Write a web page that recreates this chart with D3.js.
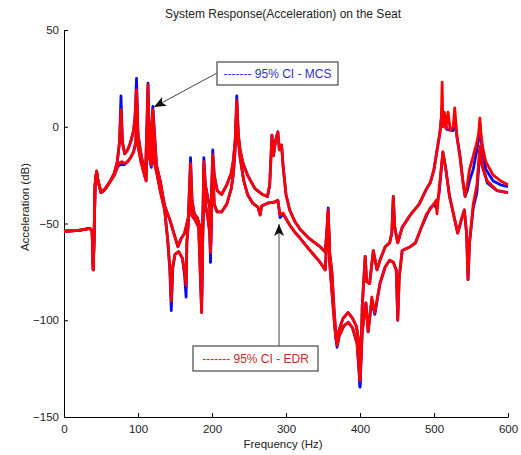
<!DOCTYPE html>
<html>
<head>
<meta charset="utf-8">
<script src="https://cdn.jsdelivr.net/npm/d3@7"></script>
<style>
  body { margin: 0; background: #fff; }
  text { font-family: "Liberation Sans", Arial, sans-serif; fill: #222; }
</style>
</head>
<body>
<div id="chart"></div>
<script>
// [frequency Hz, acceleration dB]
var edrUpper = [[0,-54],[20,-53.5],[35,-52.5],[38,-54],[39.5,-74],[40.5,-60],[42,-30],[44,-23],[46,-28],[50,-34],[55,-32.5],[62,-28.5],[68,-24],[72,-18],[75,-8],[77,8.7],[79,-8],[82,-14],[86,-12],[90,-8],[94,-2],[96,5],[98,19],[100,-4],[104,-14],[108,-22],[110,-26],[112,0],[113.5,21.6],[115,-5],[117,-10],[120,8.7],[122,-2],[125,-20],[130,-28],[136,-41],[143,-48],[150,-57],[154,-62],[158,-58],[163,-55],[168,-47],[171,-19],[173,-38],[176,-45],[180,-47],[184,-52],[186,-90],[187,-60],[188,-40],[189,-18],[191,-30],[194,-36],[197,-42],[198,-65],[199,-40],[201,-14.6],[203,-25],[207,-33],[213,-35],[220,-30],[226,-24],[229,-17],[231.5,-6],[233.5,13.5],[235.5,-4],[238,-12],[242,-19],[248,-25],[258,-32],[268,-35],[275,-36],[278,-30],[281,-4.3],[283,-15],[286,-7],[289,-2.7],[291,-12],[294,-9.4],[296,-20],[300,-35],[305,-43],[312,-49],[319,-53],[332,-58],[346,-62],[353,-64.7],[355,-55],[357,-43],[359,-65],[362,-75],[365,-95],[368,-110],[371,-106],[377,-99],[384,-96],[390,-99],[395,-103],[398,-110],[400,-131],[402,-108],[403,-93],[407,-67],[409,-80],[413,-81],[418,-64],[423,-74],[427,-69],[434,-62],[440,-60],[443,-55],[445,-36],[447,-52],[451,-60],[457,-52],[468,-45.6],[480,-40],[490,-32],[495,-29],[500,-22],[505,-10],[508,-3],[510,5],[511,23],[512,0],[514,7.6],[516,-1],[519,7.6],[522,-2],[526,0],[528,9.7],[531,-5],[535,-15],[539,-28],[542,-36],[545,-30],[548,-22],[553,-15],[558,-8],[560.5,-3],[562,4.5],[563.5,-4],[566,-11],[570,-18],[580,-25],[590,-28],[600,-30]];

var edrLower = [[0,-54],[20,-53.5],[35,-52.5],[38,-54],[39.5,-74],[40.5,-60],[42,-30],[44,-23],[46,-28],[50,-34],[55,-32.5],[62,-28.5],[68,-25],[71,-22],[74,-19],[78,-18],[82,-19],[86,-18],[90,-16],[94,-13],[97,-8],[98.5,12],[100,-10],[104,-18],[108,-24],[111,-28],[113.5,14],[115,-15],[118,-20],[120,0],[122,-18],[126,-25],[130,-33],[136,-43],[140,-58],[143,-72],[145,-90],[147,-72],[150,-66],[155,-64.5],[160,-68],[163,-75],[165,-82],[166,-60],[168,-50],[171,-30],[173,-46],[177,-48],[182,-52],[186,-96],[187,-65],[188,-50],[189,-22],[191,-40],[194,-46],[197,-55],[198,-65],[199,-50],[201,-20],[203,-40],[207,-44],[213,-44],[220,-40],[226,-32],[229,-24],[231.5,-10],[233.5,10],[235.5,-6],[238,-16],[243,-28],[248,-35],[255,-39.5],[262,-41.5],[265,-45.6],[267,-41],[275,-39.5],[284,-39],[289,-38],[292,-45.6],[296,-44.6],[305,-50.8],[312,-54.5],[319,-57.5],[332,-63.7],[346,-70],[353,-74],[355,-60],[357,-45],[359,-70],[362,-85],[366,-104],[369,-113],[372,-108],[378,-103],[384,-101],[390,-104],[396,-112],[400,-131],[402,-115],[403,-106],[408,-91],[411,-106],[416,-88],[420,-96],[427,-81],[434,-72.5],[440,-69],[445,-70],[449,-74],[451,-100],[453,-78],[457,-64],[468,-62],[475,-60],[483,-52],[490,-45],[497,-41.5],[503,-38],[504,-45],[507,-32],[512,-13],[516,-22],[521,-36],[528,-48],[532,-55],[537,-48],[541,-43],[544,-55],[546,-79],[548,-60],[553,-40],[558,-30],[562,-10],[565,-20],[572,-28],[585,-33],[600,-34]];

var mcsUpper = [[0,-54],[20,-53.5],[35,-52.5],[38,-54],[39.5,-74],[40.5,-60],[42,-30],[44,-23],[46,-28],[50,-34],[55,-32.5],[62,-28.5],[68,-24],[72,-18],[75,-8],[77,16],[79,-8],[82,-14],[86,-12],[90,-8],[94,-2],[96,5],[98,25],[100,-4],[104,-14],[108,-22],[110,-26],[112,0],[113.5,22.5],[115,-5],[117,-10],[120,10.5],[122,-2],[125,-20],[130,-28],[136,-41],[143,-48],[150,-57],[154,-62],[158,-58],[163,-55],[168,-47],[171,-16],[173,-38],[176,-45],[180,-47],[184,-52],[186,-90],[187,-60],[188,-40],[189,-16],[191,-30],[194,-36],[197,-42],[198,-70],[199,-40],[201,-12],[203,-25],[207,-33],[213,-35],[220,-30],[226,-24],[229,-17],[231.5,-6],[233.5,16],[235.5,-4],[238,-12],[242,-19],[248,-25],[258,-32],[268,-35],[275,-36],[278,-30],[281,-4.3],[283,-15],[286,-7],[289,-2.7],[291,-12],[294,-9.4],[296,-20],[300,-35],[305,-43],[312,-49],[319,-53],[332,-58],[346,-62],[353,-64.7],[355,-55],[357,-42],[359,-65],[362,-75],[365,-95],[368,-111],[371,-106],[377,-99],[384,-96],[390,-99],[395,-103],[398,-110],[400,-134.5],[402,-108],[403,-93],[407,-67],[409,-80],[413,-81],[418,-64],[423,-74],[427,-69],[434,-62],[440,-60],[443,-55],[445,-36],[447,-52],[451,-60],[457,-52],[468,-45.6],[480,-40],[490,-32],[495,-29],[500,-22],[505,-10],[508,-3],[510,5],[511,10],[512,3],[514,2],[518,-1.5],[522,-1.5],[526,-2],[528,5],[531,-5],[535,-15],[539,-28],[542,-36],[545,-33],[548,-28],[553,-22],[558,-12],[560.5,-6],[562,2],[563.5,-6],[566,-14],[570,-22],[580,-28],[590,-30],[600,-31]];

var mcsLower = [[0,-54],[20,-53.5],[35,-52.5],[38,-54],[39.5,-74],[40.5,-60],[42,-30],[44,-23],[46,-28],[50,-34],[55,-32.5],[62,-28.5],[68,-25],[71,-22],[74,-20],[78,-19.5],[82,-19.5],[86,-18],[90,-16],[94,-13],[97,-8],[98.5,12],[100,-10],[104,-18],[108,-24],[111,-28],[113.5,14],[115,-15],[118,-21],[120,0],[122,-18],[126,-25],[130,-33],[136,-43],[140,-58],[143,-74],[145,-95],[147,-73],[150,-66],[155,-64.5],[160,-68],[163,-77],[165,-88],[166,-60],[168,-50],[171,-30],[173,-46],[177,-48],[182,-52],[186,-96],[187,-65],[188,-50],[189,-22],[191,-40],[194,-46],[197,-55],[198,-70],[199,-50],[201,-20],[203,-40],[207,-44],[213,-44],[220,-40],[226,-32],[229,-24],[231.5,-10],[233.5,10],[235.5,-6],[238,-16],[243,-28],[248,-35],[255,-39.5],[262,-41.5],[265,-45.6],[267,-41],[275,-39.5],[284,-39],[289,-38],[292,-47],[296,-45],[305,-50.8],[312,-54.5],[319,-57.5],[332,-63.7],[346,-70],[353,-74],[355,-60],[357,-45],[359,-70],[362,-85],[366,-104],[369,-114],[372,-108],[378,-103],[384,-101],[390,-104],[396,-112],[400,-134.5],[402,-115],[403,-106],[408,-91],[411,-106],[416,-90],[420,-97],[427,-81],[434,-72.5],[440,-69],[445,-70],[449,-74],[451,-100],[453,-78],[457,-64],[468,-62],[475,-60],[483,-52],[490,-46],[495,-42],[500,-40],[503,-42],[507,-34],[512,-13],[516,-22],[521,-36],[528,-48],[532,-55],[537,-48],[541,-43],[544,-55],[546,-79],[548,-60],[553,-42],[558,-34],[562,-12],[565,-20],[572,-29],[585,-33],[600,-34]];

var xTicks = [0, 100, 200, 300, 400, 500, 600];
var yTicks = [-150, -100, -50, 0, 50];
var legendMcs = "------- 95% CI - MCS";
var legendEdr = "------- 95% CI - EDR";

var width = 521, height = 455;
var margin = {top: 30, right: 13, bottom: 38, left: 64};

var svg = d3.select("#chart").append("svg")
  .attr("width", width)
  .attr("height", height);

var x = d3.scaleLinear().domain([0, 600]).range([margin.left, width - margin.right]);
var y = d3.scaleLinear().domain([-150, 50]).range([height - margin.bottom, margin.top]);

// axes, ticks point inward like matlab
var xAxis = svg.append("g")
  .attr("transform", "translate(0," + y(-150) + ")")
  .call(d3.axisBottom(x).tickValues(xTicks).tickSize(-4).tickPadding(6).tickSizeOuter(0));
var yAxis = svg.append("g")
  .attr("transform", "translate(" + x(0) + ",0)")
  .call(d3.axisLeft(y).tickValues(yTicks).tickSize(-4).tickPadding(5).tickSizeOuter(0));

svg.selectAll(".domain").attr("stroke", "#000");
svg.selectAll(".tick line").attr("stroke", "#000");
svg.selectAll(".tick text").attr("font-size", 11.5).attr("fill", "#222")
  .attr("font-family", "'Liberation Sans', Arial, sans-serif");
xAxis.selectAll(".tick text").attr("dy", "0.9em");

var line = d3.line()
  .x(function(d) { return x(d[0]); })
  .y(function(d) { return y(d[1]); });

var plot = svg.append("g");
[mcsUpper, mcsLower].forEach(function(s) {
  plot.append("path").datum(s)
    .attr("d", line)
    .attr("fill", "none")
    .attr("stroke", "#0a0aee")
    .attr("stroke-width", 2.8)
    .attr("stroke-linejoin", "round");
});
[edrUpper, edrLower].forEach(function(s) {
  plot.append("path").datum(s)
    .attr("d", line)
    .attr("fill", "none")
    .attr("stroke", "#ff0000")
    .attr("stroke-width", 2.8)
    .attr("stroke-linejoin", "round");
});

// title and labels
svg.append("text")
  .attr("x", 283).attr("y", 18)
  .attr("text-anchor", "middle")
  .attr("font-size", 12)
  .text("System Response(Acceleration) on the Seat");

svg.append("text")
  .attr("x", 283).attr("y", 448)
  .attr("text-anchor", "middle")
  .attr("font-size", 11.5)
  .text("Frequency (Hz)");

svg.append("text")
  .attr("transform", "translate(29,207) rotate(-90)")
  .attr("text-anchor", "middle")
  .attr("font-size", 11.5)
  .text("Acceleration (dB)");

// arrow heads
var defs = svg.append("defs");
defs.append("marker")
  .attr("id", "head")
  .attr("viewBox", "0 0 12 10")
  .attr("refX", 12).attr("refY", 5)
  .attr("markerWidth", 12).attr("markerHeight", 10)
  .attr("markerUnits", "userSpaceOnUse")
  .attr("orient", "auto")
  .append("path")
  .attr("d", "M0,0 L12,5 L0,10 L3,5 Z")
  .attr("fill", "#111");

function callout(box, text, color, from, to) {
  svg.append("line")
    .attr("x1", from[0]).attr("y1", from[1])
    .attr("x2", to[0]).attr("y2", to[1])
    .attr("stroke", "#444")
    .attr("stroke-width", 1)
    .attr("marker-end", "url(#head)");
  svg.append("rect")
    .attr("x", box[0]).attr("y", box[1])
    .attr("width", box[2]).attr("height", box[3])
    .attr("fill", "#fff")
    .attr("stroke", "#555")
    .attr("stroke-width", 1.3);
  svg.append("text")
    .attr("x", box[0] + box[2] / 2).attr("y", box[1] + box[3] / 2 + 4)
    .attr("text-anchor", "middle")
    .attr("font-size", 12)
    .style("fill", color)
    .text(text);
}

callout([217, 62, 121, 23], legendMcs, "#3030c0", [217, 73], [154, 107]);
callout([193, 346, 125, 25], legendEdr, "#cc2a2a", [279, 346], [279, 224]);
</script>
</body>
</html>
